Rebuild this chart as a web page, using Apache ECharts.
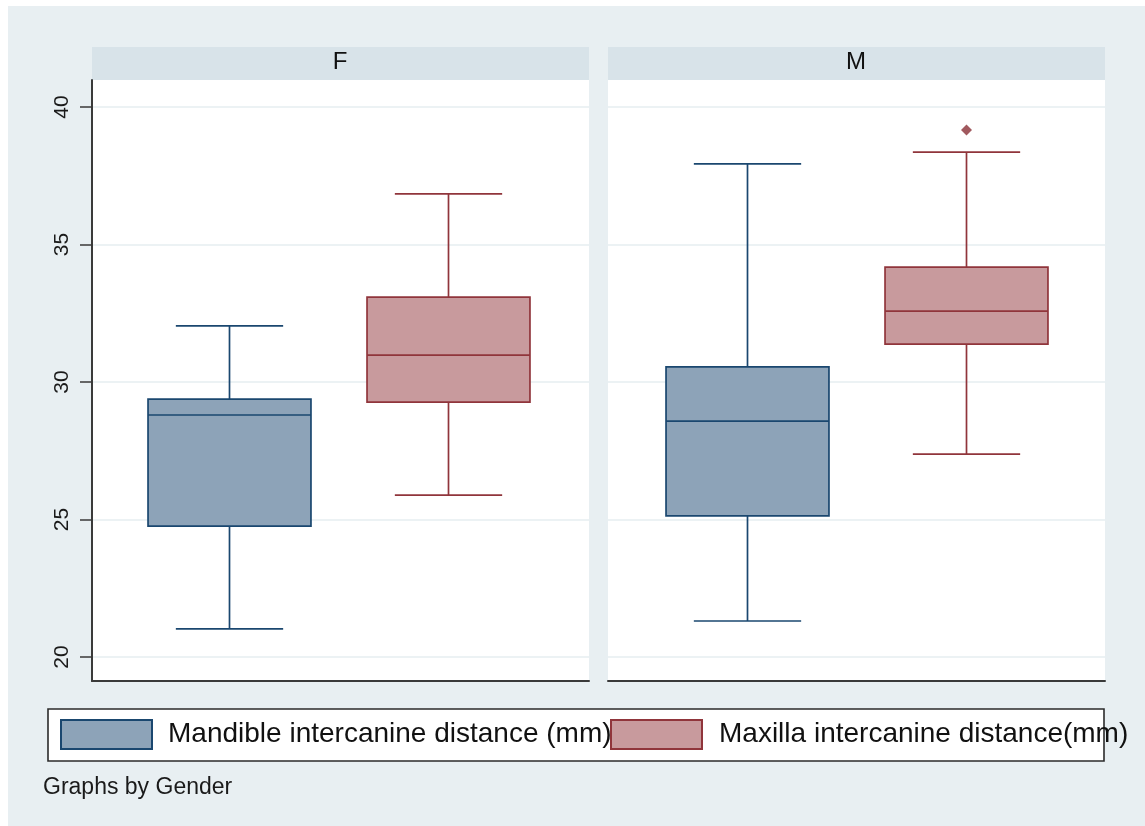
<!DOCTYPE html>
<html>
<head>
<meta charset="utf-8">
<script src="https://cdn.jsdelivr.net/npm/echarts@6/dist/echarts.min.js"></script>
<style>
  html, body { margin: 0; padding: 0; background: #fff; }
  #bg { position: absolute; left: 8px; top: 6px; right: 0; bottom: 0; background: #e8eff2; }
  #chart { position: absolute; left: 0; top: 0; width: 1145px; height: 826px; }
</style>
</head>
<body>
<div id="bg"></div>
<div id="chart"></div>
<script>
// data
const panels = ['F', 'M'];
const categories = ['Mandible', 'Maxilla'];
const seriesNames = ['Mandible intercanine distance (mm)', 'Maxilla intercanine distance(mm)'];
// lower whisker, Q1, median, Q3, upper whisker
const mandibleF = [21.02, 24.76, 28.8, 29.38, 32.04];
const maxillaF = [25.89, 29.27, 30.98, 33.09, 36.84];
const mandibleM = [21.31, 25.13, 28.58, 30.55, 37.93];
const maxillaM = [27.38, 31.38, 32.58, 34.18, 38.36];
const outliersMaxillaM = [39.16];
const yTicks = [20, 25, 30, 35, 40];

const FONT = '"Liberation Sans", Arial, sans-serif';
const NAVY = '#1a476f', NAVY_FILL = '#8da3b8';
const MAROON = '#90353b', MAROON_FILL = '#c89a9d';
const AXIS_COLOR = '#3a3a3a';

const panelLeft = [92, 608];
const dataLeft = [120, 638];
const PANEL_W = 497, DATA_W = 438;
const BOX_RATIO = 0.744, CAP_RATIO = 0.49;

function makeBox(stroke, fill) {
  return function (params, api) {
    const cat = api.value(0);
    const band = api.size([1, 0])[0];
    const half = band * BOX_RATIO / 2;
    const capHalf = band * CAP_RATIO / 2;
    const lo = api.coord([cat, api.value(1)]);
    const q1 = api.coord([cat, api.value(2)]);
    const md = api.coord([cat, api.value(3)]);
    const q3 = api.coord([cat, api.value(4)]);
    const hi = api.coord([cat, api.value(5)]);
    const x = lo[0];
    const ls = { stroke: stroke, lineWidth: 1.7 };
    return {
      type: 'group',
      children: [
        { type: 'line', shape: { x1: x, y1: hi[1], x2: x, y2: q3[1] }, style: ls },
        { type: 'line', shape: { x1: x, y1: q1[1], x2: x, y2: lo[1] }, style: ls },
        { type: 'line', shape: { x1: x - capHalf, y1: hi[1], x2: x + capHalf, y2: hi[1] }, style: ls },
        { type: 'line', shape: { x1: x - capHalf, y1: lo[1], x2: x + capHalf, y2: lo[1] }, style: ls },
        { type: 'rect', shape: { x: x - half, y: q3[1], width: half * 2, height: q1[1] - q3[1] },
          style: { fill: fill, stroke: stroke, lineWidth: 1.7 } },
        { type: 'line', shape: { x1: x - half, y1: md[1], x2: x + half, y2: md[1] }, style: ls }
      ]
    };
  };
}

const grid = [], xAxis = [], yAxis = [], series = [];
const boxes = [[mandibleF, maxillaF], [mandibleM, maxillaM]];

panels.forEach(function (p, i) {
  const base = 4 * i;
  // strip
  grid.push({ left: panelLeft[i], top: 47, width: PANEL_W, height: 33, show: true, backgroundColor: '#d8e3e9', borderWidth: 0 });
  xAxis.push({ gridIndex: base, type: 'value', show: false });
  yAxis.push({ gridIndex: base, type: 'value', show: false });
  // white plot region with outer axis lines
  grid.push({ left: panelLeft[i], top: 80, width: PANEL_W, height: 601, show: true, backgroundColor: '#fff', borderWidth: 0 });
  xAxis.push({ gridIndex: base + 1, type: 'value', min: 0, max: 1, position: 'bottom',
    axisLine: { show: true, onZero: false, lineStyle: { color: AXIS_COLOR, width: 2 } },
    axisTick: { show: false }, axisLabel: { show: false }, splitLine: { show: false } });
  yAxis.push({ gridIndex: base + 1, type: 'value', min: 0, max: 1, show: i === 0,
    axisLine: { show: true, onZero: false, lineStyle: { color: AXIS_COLOR, width: 2 } },
    axisTick: { show: false }, axisLabel: { show: false }, splitLine: { show: false } });
  // value scale, ticks, labels, grid lines
  grid.push({ left: panelLeft[i], top: 107, width: PANEL_W, height: 550 });
  xAxis.push({ gridIndex: base + 2, type: 'value', show: false });
  yAxis.push({ gridIndex: base + 2, type: 'value', min: yTicks[0], max: yTicks[yTicks.length - 1], interval: 5,
    axisLine: { show: false },
    axisTick: { show: i === 0, length: 12, lineStyle: { color: AXIS_COLOR, width: 1.5 } },
    axisLabel: { show: i === 0, rotate: 90, margin: 19, fontSize: 21, fontFamily: FONT, color: '#1a1a1a' },
    splitLine: { show: true, lineStyle: { color: '#e6eef1', width: 1.5 } } });
  // boxes
  grid.push({ left: dataLeft[i], top: 107, width: DATA_W, height: 550 });
  xAxis.push({ gridIndex: base + 3, type: 'category', data: categories, show: false });
  yAxis.push({ gridIndex: base + 3, type: 'value', min: yTicks[0], max: yTicks[yTicks.length - 1], show: false });

  series.push({ name: seriesNames[0], type: 'custom', xAxisIndex: base + 3, yAxisIndex: base + 3,
    renderItem: makeBox(NAVY, NAVY_FILL), itemStyle: { color: NAVY_FILL, borderColor: NAVY },
    encode: { x: 0, y: [1, 2, 3, 4, 5] }, data: [[0].concat(boxes[i][0])], silent: true });
  series.push({ name: seriesNames[1], type: 'custom', xAxisIndex: base + 3, yAxisIndex: base + 3,
    renderItem: makeBox(MAROON, MAROON_FILL), itemStyle: { color: MAROON_FILL, borderColor: MAROON },
    encode: { x: 0, y: [1, 2, 3, 4, 5] }, data: [[1].concat(boxes[i][1])], silent: true });
});

series.push({ name: 'outside values', type: 'scatter', xAxisIndex: 7, yAxisIndex: 7,
  data: outliersMaxillaM.map(function (v) { return [1, v]; }),
  symbol: 'diamond', symbolSize: 11, itemStyle: { color: '#8a2f36' }, silent: true });

const chart = echarts.init(document.getElementById('chart'));
chart.setOption({
  backgroundColor: 'transparent',
  animation: false,
  grid: grid,
  xAxis: xAxis,
  yAxis: yAxis,
  legend: [
    { data: [seriesNames[0]], left: 60, top: 719, padding: 0, icon: 'rect', itemWidth: 91, itemHeight: 29,
      selectedMode: false, itemStyle: { color: NAVY_FILL, borderColor: NAVY, borderWidth: 2 },
      textStyle: { fontSize: 28, fontFamily: FONT, color: '#111', padding: [6, 0, 0, 11] } },
    { data: [seriesNames[1]], left: 610, top: 719, padding: 0, icon: 'rect', itemWidth: 91, itemHeight: 29,
      selectedMode: false, itemStyle: { color: MAROON_FILL, borderColor: MAROON, borderWidth: 2 },
      textStyle: { fontSize: 28, fontFamily: FONT, color: '#111', padding: [6, 0, 0, 12] } }
  ],
  graphic: [
    { type: 'rect', shape: { x: 48, y: 709, width: 1056, height: 52 },
      style: { fill: '#fff', stroke: '#2b2b2b', lineWidth: 1.6 }, silent: true },
    { type: 'text', x: 340, y: 62, silent: true,
      style: { text: panels[0], fontSize: 24, fontFamily: FONT, fill: '#111', textAlign: 'center', textVerticalAlign: 'middle' } },
    { type: 'text', x: 856, y: 62, silent: true,
      style: { text: panels[1], fontSize: 24, fontFamily: FONT, fill: '#111', textAlign: 'center', textVerticalAlign: 'middle' } },
    { type: 'text', x: 43, y: 788, silent: true,
      style: { text: 'Graphs by Gender', fontSize: 23, fontFamily: FONT, fill: '#1a1a1a', textAlign: 'left', textVerticalAlign: 'middle' } }
  ],
  series: series
});
</script>
</body>
</html>
